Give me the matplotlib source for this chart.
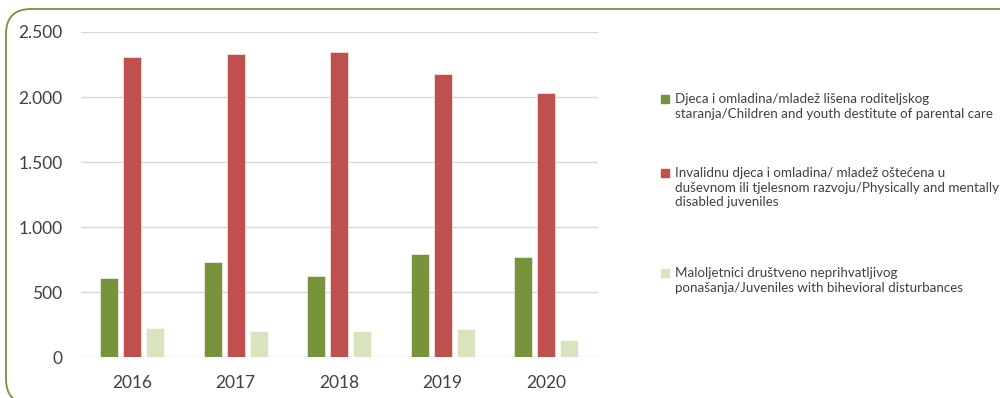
import matplotlib
matplotlib.use("Agg")
import matplotlib.pyplot as plt
from matplotlib.patches import FancyBboxPatch, Rectangle
from matplotlib.ticker import FuncFormatter
import numpy as np

# data
years = ["2016", "2017", "2018", "2019", "2020"]
parental_care = [605, 728, 623, 792, 767]
disabled = [2308, 2328, 2346, 2174, 2031]
behavioral = [221, 200, 200, 213, 128]

labels = [
    "Djeca i omladina/mladež lišena roditeljskog\nstaranja/Children and youth destitute of parental care",
    "Invalidnu djeca i omladina/ mladež oštećena u\nduševnom ili tjelesnom razvoju/Physically and mentally\ndisabled juveniles",
    "Maloljetnici društveno neprihvatljivog\nponašanja/Juveniles with bihevioral disturbances",
]
colors = ["#77933C", "#C0504D", "#D7E4BD"]

plt.rcParams['font.family'] = ['Lato', 'DejaVu Sans']
text_color = "#404040"

fig = plt.figure(figsize=(10, 3.98), dpi=100)
ax = fig.add_axes([0.0805, 0.103, 0.5175, 0.8166])

x = np.arange(len(years))
width = 0.174
step = 0.222
for i, (vals, c) in enumerate(zip([parental_care, disabled, behavioral], colors)):
    ax.bar(x + (i - 1) * step, vals, width, color=c, edgecolor="white",
           linewidth=0.4, zorder=3)

ax.set_xlim(-0.5, len(years) - 0.5)
ax.set_ylim(0, 2500)
ax.set_yticks(np.arange(0, 2501, 500))
ax.yaxis.set_major_formatter(FuncFormatter(lambda v, p: f"{int(v):,}".replace(",", ".")))
ax.set_xticks(x)
ax.set_xticklabels(years)
ax.grid(axis="y", color="#D9D9D9", linewidth=1.0, zorder=0)
for s in ax.spines.values():
    s.set_visible(False)
ax.tick_params(axis="both", length=0, labelsize=12.5, colors=text_color)
ax.tick_params(axis="y", pad=13)
ax.tick_params(axis="x", pad=13)

# legend drawn by hand so the marker sits on the first line
W, H = 1000, 398
legend_tops = [93, 167, 267]
for lab, c, top in zip(labels, colors, legend_tops):
    fig.patches.append(Rectangle((661 / W, 1 - (top + 10) / H), 8 / W, 8 / H,
                                 transform=fig.transFigure, color=c))
    fig.text(675 / W, 1 - top / H, lab, fontsize=9.6, color=text_color,
             va="top", ha="left", linespacing=1.25)

# rounded green frame, partly outside the picture
frame = FancyBboxPatch((6 / W, -6 / H), 1.05, (398 - 9 + 6) / H,
                       boxstyle="round,pad=0,rounding_size=0.025",
                       transform=fig.transFigure, fill=False,
                       edgecolor="#77933C", linewidth=1.3, mutation_aspect=W / H)
fig.patches.append(frame)

fig.savefig("out.png", dpi=100, facecolor="white")
